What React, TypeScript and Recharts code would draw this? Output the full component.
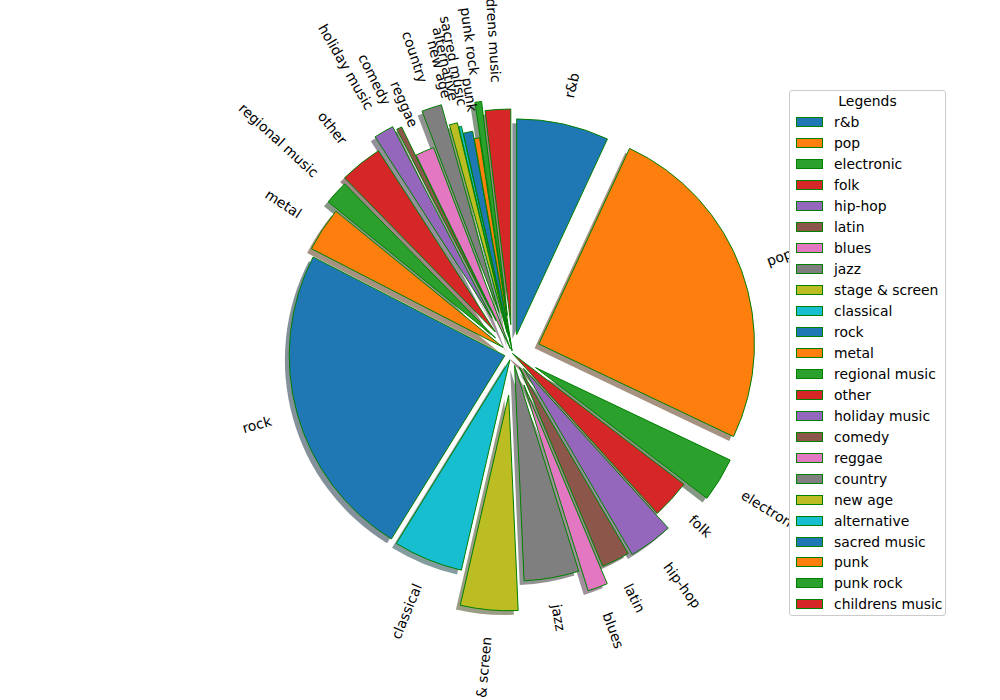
import React from "react";
import { PieChart, Pie, Cell, Sector, Legend } from "recharts";

const genres = [
  "r&b", "pop", "electronic", "folk", "hip-hop", "latin", "blues", "jazz",
  "stage & screen", "classical", "rock", "metal", "regional music", "other",
  "holiday music", "comedy", "reggae", "country", "new age", "alternative",
  "sacred music", "punk", "punk rock", "childrens music",
];

const counts = [
  69, 251, 33, 29, 33, 21, 15, 41,
  43, 52, 237, 33, 18, 32,
  15, 4, 14, 15, 6, 2,
  7, 4, 5, 19,
];

// fraction of the radius each wedge is pulled out
const explode = [
  0.09, 0.13, 0.125, 0.0, 0.086, 0.072, 0.155, 0.056,
  0.194, 0.033, 0.037, 0.052, 0.107, 0.128,
  0.19, 0.17, 0.023, 0.2, 0.1, 0.08,
  0.047, 0.012, 0.178, 0.134,
];

const palette = [
  "#1f77b4", "#ff7f0e", "#2ca02c", "#d62728", "#9467bd",
  "#8c564b", "#e377c2", "#7f7f7f", "#bcbd22", "#17becf",
];

const CX = 512.5;
const CY = 353.5;
const R = 215.6;
const LABEL_DIST = 1.125;
const RAD = Math.PI / 180;
const FONT = "DejaVu Sans";

const data = genres.map((name, i) => ({ name, value: counts[i] }));

const colorOf = (i: number) => palette[i % palette.length];

const shadowOf = (hex: string) => {
  const n = parseInt(hex.slice(1), 16);
  const r = Math.round(((n >> 16) & 255) * 0.3);
  const g = Math.round(((n >> 8) & 255) * 0.3);
  const b = Math.round((n & 255) * 0.3);
  return `rgb(${r},${g},${b})`;
};

const pullOf = (props: any) => {
  const name = props.payload?.name ?? props.name;
  const e = explode[genres.indexOf(name)] * props.outerRadius;
  return {
    dx: Math.cos(-props.midAngle * RAD) * e,
    dy: Math.sin(-props.midAngle * RAD) * e,
    e,
  };
};

const Wedge = (props: any) => {
  const { dx, dy } = pullOf(props);
  return (
    <Sector
      cx={props.cx + dx}
      cy={props.cy + dy}
      innerRadius={0}
      outerRadius={props.outerRadius}
      startAngle={props.startAngle}
      endAngle={props.endAngle}
      fill={props.fill}
      stroke="#008000"
      strokeWidth={1}
    />
  );
};

const ShadowWedge = (props: any) => {
  const { dx, dy } = pullOf(props);
  return (
    <Sector
      cx={props.cx + dx}
      cy={props.cy + dy}
      innerRadius={0}
      outerRadius={props.outerRadius}
      startAngle={props.startAngle}
      endAngle={props.endAngle}
      fill={props.fill}
      fillOpacity={0.5}
      stroke="none"
    />
  );
};

const renderLabel = (props: any) => {
  const { cx, cy, midAngle, outerRadius } = props;
  const name = props.payload?.name ?? props.name;
  const { e } = pullOf(props);
  const rr = e + LABEL_DIST * outerRadius;
  const x = cx + Math.cos(-midAngle * RAD) * rr;
  const y = cy + Math.sin(-midAngle * RAD) * rr;
  const right = Math.cos(midAngle * RAD) >= 0;
  const rot = right ? midAngle : midAngle + 180;
  return (
    <text
      x={x}
      y={y}
      textAnchor={right ? "start" : "end"}
      dominantBaseline="central"
      transform={`rotate(${-rot} ${x} ${y})`}
      fontSize={13.9}
      fontFamily={FONT}
      fill="#000"
    >
      {name}
    </text>
  );
};

const LegendBox = (props: any) => {
  const items = (props.payload || [])
    .filter((p: any) => p.type !== "none")
    .slice()
    .sort((a: any, b: any) => genres.indexOf(a.value) - genres.indexOf(b.value));
  return (
    <div
      style={{
        width: 157,
        height: 526,
        boxSizing: "border-box",
        border: "1px solid #cccccc",
        borderRadius: 3,
        background: "#fff",
        fontFamily: FONT,
        fontSize: 13.9,
        color: "#000",
      }}
    >
      <div style={{ height: 21, lineHeight: "21px", textAlign: "center" }}>Legends</div>
      {items.map((item: any) => (
        <div key={item.value} style={{ height: 20.96, display: "flex", alignItems: "center" }}>
          <span
            style={{
              display: "inline-block",
              width: 27,
              height: 10,
              boxSizing: "border-box",
              marginLeft: 6,
              marginRight: 11,
              background: item.color,
              border: "1px solid #008000",
            }}
          />
          <span style={{ whiteSpace: "nowrap" }}>{item.value}</span>
        </div>
      ))}
    </div>
  );
};

export default function App() {
  return (
    <div style={{ position: "fixed", top: 0, left: 0, width: 1000, height: 700, background: "#fff" }}>
      <PieChart width={1000} height={700} margin={{ top: 0, right: 0, bottom: 0, left: 0 }}>
        <Pie
          data={data}
          dataKey="value"
          nameKey="name"
          cx={CX - 0.02 * R}
          cy={CY + 0.02 * R}
          outerRadius={R}
          startAngle={90}
          endAngle={-270}
          legendType="none"
          shape={ShadowWedge}
          activeShape={ShadowWedge}
          label={false}
          labelLine={false}
          isAnimationActive={false}
        >
          {data.map((d, i) => (
            <Cell key={d.name} fill={shadowOf(colorOf(i))} />
          ))}
        </Pie>
        <Pie
          data={data}
          dataKey="value"
          nameKey="name"
          cx={CX}
          cy={CY}
          outerRadius={R}
          startAngle={90}
          endAngle={-270}
          shape={Wedge}
          activeShape={Wedge}
          label={renderLabel}
          labelLine={false}
          isAnimationActive={false}
        >
          {data.map((d, i) => (
            <Cell key={d.name} fill={colorOf(i)} />
          ))}
        </Pie>
        <Legend
          content={<LegendBox />}
          wrapperStyle={{ position: "absolute", left: 789, top: 90, width: 157 }}
        />
      </PieChart>
    </div>
  );
}
